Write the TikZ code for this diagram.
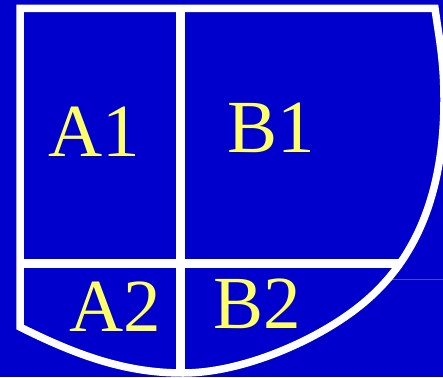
\documentclass[tikz,border=0pt]{standalone}
\usepackage{fontspec}
\setmainfont{Liberation Serif}
\definecolor{slideblue}{RGB}{0,0,204}
\definecolor{cellyellow}{RGB}{255,255,102}
\definecolor{faintblue}{RGB}{70,70,232}
\tikzset{
  cellname/.style={text=cellyellow, font=\fontsize{75}{75}\selectfont, inner sep=0pt},
  rim/.style={draw=white, line width=7.5pt, line join=miter},
  divider/.style={draw=white, line width=9pt}
}
\begin{document}
\begin{tikzpicture}[x=1pt, y=-1pt]
  \fill[slideblue] (0,0) rectangle (443,377);
  \useasboundingbox (0,0) rectangle (443,377);
  % dividers
  \draw[divider] (180.5,8.5) -- (180.5,373);
  \draw[divider] (20,263) -- (402,263);
  \draw[faintblue, line width=0.8pt] (391,279.3) -- (443,279.3);
  % outer rim
  \draw[rim] (435,8.5) -- (20,8.5) -- (20,327)
    .. controls (80,357) and (128,373) .. (183,373)
    .. controls (243,373) and (318,340) .. (361,305)
    .. controls (411.6,264.2) and (444,200) .. (444,100)
    .. controls (444,60) and (439,38) .. (435,8.5) -- cycle;
  % labels
  \node[cellname] (a1) at (94.5,132) {A1};
  \node[cellname] (b1) at (271,128) {B1};
  \node[cellname] (a2) at (115.5,307) {A2};
  \node[cellname] (b2) at (257.5,304) {B2};
\end{tikzpicture}
\end{document}
